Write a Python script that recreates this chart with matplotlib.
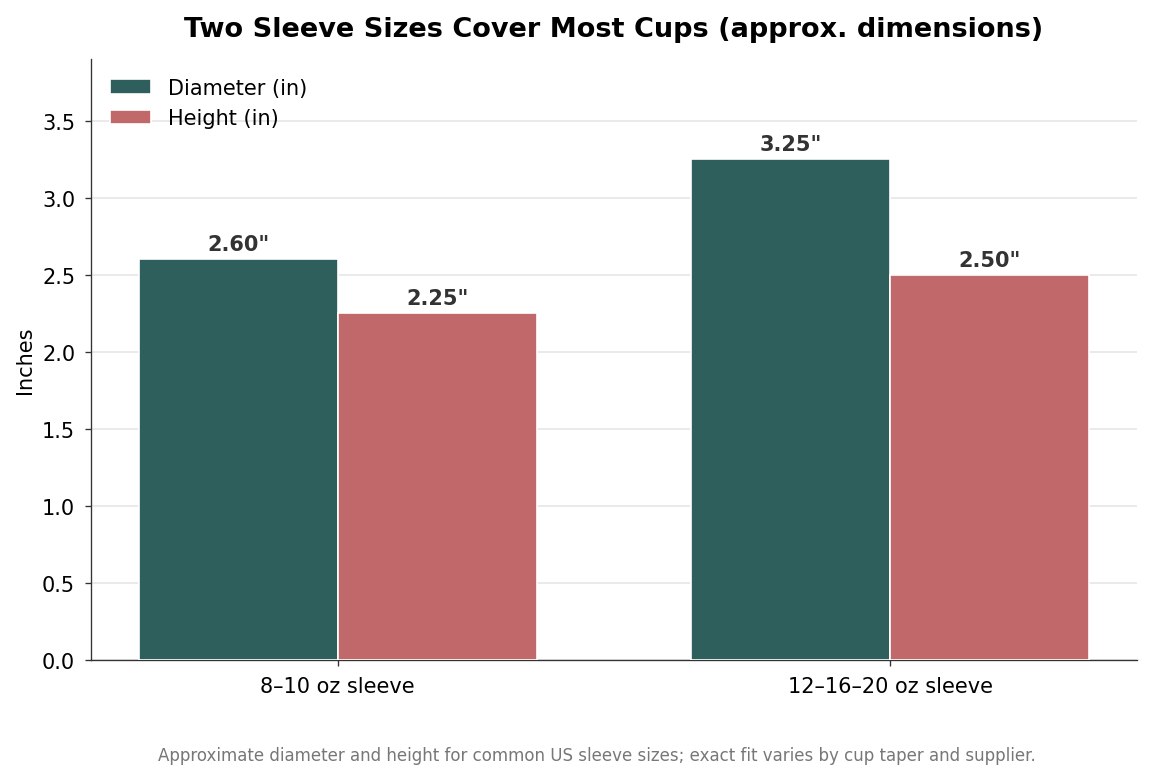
import matplotlib.pyplot as plt
import numpy as np

categories = ["8\u201310 oz sleeve", "12\u201316\u201320 oz sleeve"]
diameter = [2.60, 3.25]
height = [2.25, 2.50]

fig, ax = plt.subplots(figsize=(9.6, 6.508), dpi=120)
x = np.arange(len(categories))
w = 0.36

b1 = ax.bar(x - w / 2, diameter, w, color="#2f5f5c", edgecolor="white", linewidth=1.0,
            label="Diameter (in)", zorder=3)
b2 = ax.bar(x + w / 2, height, w, color="#c1686b", edgecolor="white", linewidth=1.0,
            label="Height (in)", zorder=3)

for bars in (b1, b2):
    for r in bars:
        ax.annotate('%.2f"' % r.get_height(), (r.get_x() + r.get_width() / 2, r.get_height()),
                    xytext=(0, 3), textcoords="offset points", ha="center", va="bottom",
                    fontsize=12.5, fontweight="bold", color="#333333")

ax.set_xticks(x)
ax.set_xticklabels(categories, fontsize=12.5)
ax.tick_params(axis="both", labelsize=12.5, pad=6, color="#333333")
ax.set_ylim(0, 3.9)
ax.set_ylabel("Inches", fontsize=12.5)
ax.set_title("Two Sleeve Sizes Cover Most Cups (approx. dimensions)", fontsize=16.3,
             fontweight="bold", pad=14)
ax.yaxis.grid(True, color="#e6e6e6", linewidth=1, zorder=0)
ax.set_axisbelow(True)
ax.spines["top"].set_visible(False)
ax.spines["right"].set_visible(False)
for s in ("left", "bottom"):
    ax.spines[s].set_color("#333333")
ax.legend(loc="upper left", frameon=False, fontsize=12.5)

fig.text(0.518, 0.025, "Approximate diameter and height for common US sleeve sizes; exact fit varies by cup taper and supplier.",
         ha="center", fontsize=10, color="#777777")
fig.subplots_adjust(left=0.079, right=0.987, top=0.923, bottom=0.154)
fig.savefig("out.png", dpi=120)
